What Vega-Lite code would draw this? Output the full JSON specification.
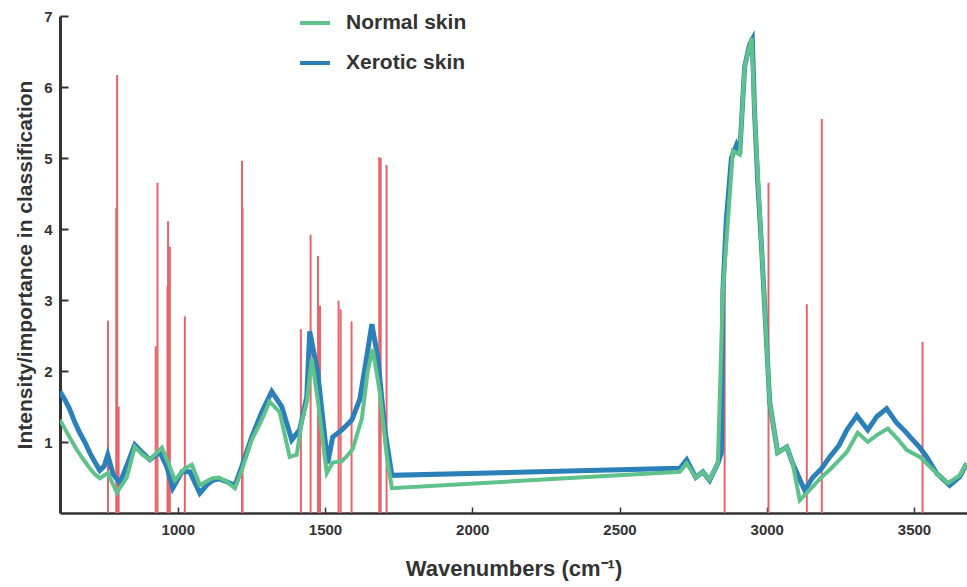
{
  "$schema": "https://vega.github.io/schema/vega-lite/v6.json",
  "width": 907,
  "height": 497,
  "autosize": {"type": "none"},
  "padding": {"left": 60, "top": 16, "right": 0, "bottom": 74},
  "background": "white",
  "config": {"view": {"stroke": null}, "font": "Liberation Sans"},
  "datasets": {
    "spikes": [
      {"wn": 763, "v": 2.71}, {"wn": 791, "v": 4.3}, {"wn": 794, "v": 6.17}, {"wn": 799, "v": 1.5},
      {"wn": 925, "v": 2.35}, {"wn": 931, "v": 4.65}, {"wn": 965, "v": 3.2}, {"wn": 967, "v": 4.11},
      {"wn": 973, "v": 3.75}, {"wn": 1024, "v": 2.77}, {"wn": 1218, "v": 4.96}, {"wn": 1220, "v": 4.3},
      {"wn": 1418, "v": 2.59}, {"wn": 1451, "v": 3.92}, {"wn": 1476, "v": 3.62}, {"wn": 1483, "v": 2.92},
      {"wn": 1546, "v": 2.99}, {"wn": 1553, "v": 2.87}, {"wn": 1590, "v": 2.7}, {"wn": 1684, "v": 5.01},
      {"wn": 1689, "v": 5.0}, {"wn": 1709, "v": 4.9}, {"wn": 2857, "v": 3.93}, {"wn": 3006, "v": 4.65},
      {"wn": 3136, "v": 2.94}, {"wn": 3187, "v": 5.55}, {"wn": 3529, "v": 2.41}
    ],
    "curves": [
      {"s": "Xerotic skin", "wn": 600, "v": 1.71}, {"s": "Xerotic skin", "wn": 616, "v": 1.6},
      {"s": "Xerotic skin", "wn": 633, "v": 1.46}, {"s": "Xerotic skin", "wn": 650, "v": 1.28},
      {"s": "Xerotic skin", "wn": 667, "v": 1.13}, {"s": "Xerotic skin", "wn": 684, "v": 1.0},
      {"s": "Xerotic skin", "wn": 701, "v": 0.85}, {"s": "Xerotic skin", "wn": 718, "v": 0.72},
      {"s": "Xerotic skin", "wn": 735, "v": 0.6}, {"s": "Xerotic skin", "wn": 750, "v": 0.66},
      {"s": "Xerotic skin", "wn": 762, "v": 0.82}, {"s": "Xerotic skin", "wn": 780, "v": 0.55},
      {"s": "Xerotic skin", "wn": 803, "v": 0.42}, {"s": "Xerotic skin", "wn": 830, "v": 0.7},
      {"s": "Xerotic skin", "wn": 854, "v": 0.96}, {"s": "Xerotic skin", "wn": 880, "v": 0.85},
      {"s": "Xerotic skin", "wn": 905, "v": 0.75}, {"s": "Xerotic skin", "wn": 939, "v": 0.86},
      {"s": "Xerotic skin", "wn": 963, "v": 0.65}, {"s": "Xerotic skin", "wn": 983, "v": 0.35},
      {"s": "Xerotic skin", "wn": 1014, "v": 0.58}, {"s": "Xerotic skin", "wn": 1041, "v": 0.58},
      {"s": "Xerotic skin", "wn": 1075, "v": 0.28}, {"s": "Xerotic skin", "wn": 1100, "v": 0.4},
      {"s": "Xerotic skin", "wn": 1119, "v": 0.46}, {"s": "Xerotic skin", "wn": 1140, "v": 0.48},
      {"s": "Xerotic skin", "wn": 1166, "v": 0.44}, {"s": "Xerotic skin", "wn": 1194, "v": 0.39},
      {"s": "Xerotic skin", "wn": 1217, "v": 0.65}, {"s": "Xerotic skin", "wn": 1251, "v": 1.07},
      {"s": "Xerotic skin", "wn": 1285, "v": 1.42}, {"s": "Xerotic skin", "wn": 1319, "v": 1.71},
      {"s": "Xerotic skin", "wn": 1353, "v": 1.5}, {"s": "Xerotic skin", "wn": 1387, "v": 1.03},
      {"s": "Xerotic skin", "wn": 1414, "v": 1.17}, {"s": "Xerotic skin", "wn": 1438, "v": 1.64},
      {"s": "Xerotic skin", "wn": 1448, "v": 2.56}, {"s": "Xerotic skin", "wn": 1475, "v": 1.98},
      {"s": "Xerotic skin", "wn": 1509, "v": 0.7}, {"s": "Xerotic skin", "wn": 1526, "v": 1.07},
      {"s": "Xerotic skin", "wn": 1557, "v": 1.17}, {"s": "Xerotic skin", "wn": 1591, "v": 1.31},
      {"s": "Xerotic skin", "wn": 1618, "v": 1.6}, {"s": "Xerotic skin", "wn": 1642, "v": 2.21},
      {"s": "Xerotic skin", "wn": 1659, "v": 2.66}, {"s": "Xerotic skin", "wn": 1679, "v": 2.2},
      {"s": "Xerotic skin", "wn": 1703, "v": 1.17}, {"s": "Xerotic skin", "wn": 1727, "v": 0.53},
      {"s": "Xerotic skin", "wn": 2705, "v": 0.63}, {"s": "Xerotic skin", "wn": 2728, "v": 0.75},
      {"s": "Xerotic skin", "wn": 2759, "v": 0.5}, {"s": "Xerotic skin", "wn": 2783, "v": 0.58},
      {"s": "Xerotic skin", "wn": 2806, "v": 0.46}, {"s": "Xerotic skin", "wn": 2834, "v": 0.7},
      {"s": "Xerotic skin", "wn": 2846, "v": 0.85}, {"s": "Xerotic skin", "wn": 2851, "v": 3.12},
      {"s": "Xerotic skin", "wn": 2863, "v": 4.15}, {"s": "Xerotic skin", "wn": 2880, "v": 5.0},
      {"s": "Xerotic skin", "wn": 2897, "v": 5.18}, {"s": "Xerotic skin", "wn": 2908, "v": 5.05},
      {"s": "Xerotic skin", "wn": 2925, "v": 6.29}, {"s": "Xerotic skin", "wn": 2942, "v": 6.6},
      {"s": "Xerotic skin", "wn": 2951, "v": 6.67}, {"s": "Xerotic skin", "wn": 2959, "v": 5.6},
      {"s": "Xerotic skin", "wn": 2970, "v": 4.62}, {"s": "Xerotic skin", "wn": 2983, "v": 3.69},
      {"s": "Xerotic skin", "wn": 3010, "v": 1.56}, {"s": "Xerotic skin", "wn": 3037, "v": 0.85},
      {"s": "Xerotic skin", "wn": 3068, "v": 0.93}, {"s": "Xerotic skin", "wn": 3088, "v": 0.7},
      {"s": "Xerotic skin", "wn": 3119, "v": 0.41}, {"s": "Xerotic skin", "wn": 3129, "v": 0.32},
      {"s": "Xerotic skin", "wn": 3156, "v": 0.5}, {"s": "Xerotic skin", "wn": 3185, "v": 0.62},
      {"s": "Xerotic skin", "wn": 3214, "v": 0.79}, {"s": "Xerotic skin", "wn": 3245, "v": 0.95},
      {"s": "Xerotic skin", "wn": 3272, "v": 1.17}, {"s": "Xerotic skin", "wn": 3306, "v": 1.37},
      {"s": "Xerotic skin", "wn": 3343, "v": 1.17}, {"s": "Xerotic skin", "wn": 3374, "v": 1.36},
      {"s": "Xerotic skin", "wn": 3407, "v": 1.47}, {"s": "Xerotic skin", "wn": 3441, "v": 1.27},
      {"s": "Xerotic skin", "wn": 3470, "v": 1.15}, {"s": "Xerotic skin", "wn": 3496, "v": 1.03},
      {"s": "Xerotic skin", "wn": 3520, "v": 0.92}, {"s": "Xerotic skin", "wn": 3543, "v": 0.79},
      {"s": "Xerotic skin", "wn": 3577, "v": 0.56}, {"s": "Xerotic skin", "wn": 3621, "v": 0.39},
      {"s": "Xerotic skin", "wn": 3655, "v": 0.51}, {"s": "Xerotic skin", "wn": 3679, "v": 0.7},

      {"s": "Normal skin", "wn": 600, "v": 1.31}, {"s": "Normal skin", "wn": 628, "v": 1.1},
      {"s": "Normal skin", "wn": 657, "v": 0.89}, {"s": "Normal skin", "wn": 680, "v": 0.75},
      {"s": "Normal skin", "wn": 701, "v": 0.63}, {"s": "Normal skin", "wn": 718, "v": 0.55},
      {"s": "Normal skin", "wn": 735, "v": 0.49}, {"s": "Normal skin", "wn": 762, "v": 0.56},
      {"s": "Normal skin", "wn": 793, "v": 0.29}, {"s": "Normal skin", "wn": 827, "v": 0.5},
      {"s": "Normal skin", "wn": 854, "v": 0.93}, {"s": "Normal skin", "wn": 880, "v": 0.82},
      {"s": "Normal skin", "wn": 905, "v": 0.75}, {"s": "Normal skin", "wn": 946, "v": 0.92},
      {"s": "Normal skin", "wn": 973, "v": 0.65}, {"s": "Normal skin", "wn": 990, "v": 0.46},
      {"s": "Normal skin", "wn": 1024, "v": 0.63}, {"s": "Normal skin", "wn": 1048, "v": 0.68},
      {"s": "Normal skin", "wn": 1075, "v": 0.39}, {"s": "Normal skin", "wn": 1100, "v": 0.45},
      {"s": "Normal skin", "wn": 1119, "v": 0.49}, {"s": "Normal skin", "wn": 1140, "v": 0.5},
      {"s": "Normal skin", "wn": 1166, "v": 0.44}, {"s": "Normal skin", "wn": 1194, "v": 0.35},
      {"s": "Normal skin", "wn": 1217, "v": 0.6}, {"s": "Normal skin", "wn": 1251, "v": 1.03},
      {"s": "Normal skin", "wn": 1285, "v": 1.31}, {"s": "Normal skin", "wn": 1312, "v": 1.57},
      {"s": "Normal skin", "wn": 1346, "v": 1.42}, {"s": "Normal skin", "wn": 1380, "v": 0.79},
      {"s": "Normal skin", "wn": 1404, "v": 0.82}, {"s": "Normal skin", "wn": 1420, "v": 1.27},
      {"s": "Normal skin", "wn": 1438, "v": 1.56}, {"s": "Normal skin", "wn": 1455, "v": 2.17},
      {"s": "Normal skin", "wn": 1475, "v": 1.6}, {"s": "Normal skin", "wn": 1506, "v": 0.56},
      {"s": "Normal skin", "wn": 1526, "v": 0.71}, {"s": "Normal skin", "wn": 1557, "v": 0.73},
      {"s": "Normal skin", "wn": 1574, "v": 0.8}, {"s": "Normal skin", "wn": 1594, "v": 0.9},
      {"s": "Normal skin", "wn": 1625, "v": 1.33}, {"s": "Normal skin", "wn": 1645, "v": 2.0},
      {"s": "Normal skin", "wn": 1662, "v": 2.31}, {"s": "Normal skin", "wn": 1686, "v": 1.7},
      {"s": "Normal skin", "wn": 1710, "v": 0.79}, {"s": "Normal skin", "wn": 1727, "v": 0.35},
      {"s": "Normal skin", "wn": 2705, "v": 0.58}, {"s": "Normal skin", "wn": 2728, "v": 0.7},
      {"s": "Normal skin", "wn": 2759, "v": 0.5}, {"s": "Normal skin", "wn": 2783, "v": 0.58},
      {"s": "Normal skin", "wn": 2806, "v": 0.47}, {"s": "Normal skin", "wn": 2834, "v": 0.7},
      {"s": "Normal skin", "wn": 2851, "v": 3.12}, {"s": "Normal skin", "wn": 2885, "v": 5.1},
      {"s": "Normal skin", "wn": 2908, "v": 5.05}, {"s": "Normal skin", "wn": 2925, "v": 6.29},
      {"s": "Normal skin", "wn": 2949, "v": 6.69}, {"s": "Normal skin", "wn": 2959, "v": 5.6},
      {"s": "Normal skin", "wn": 2983, "v": 3.69}, {"s": "Normal skin", "wn": 3010, "v": 1.56},
      {"s": "Normal skin", "wn": 3037, "v": 0.85}, {"s": "Normal skin", "wn": 3068, "v": 0.93},
      {"s": "Normal skin", "wn": 3088, "v": 0.7}, {"s": "Normal skin", "wn": 3112, "v": 0.18},
      {"s": "Normal skin", "wn": 3156, "v": 0.37}, {"s": "Normal skin", "wn": 3185, "v": 0.5},
      {"s": "Normal skin", "wn": 3214, "v": 0.61}, {"s": "Normal skin", "wn": 3245, "v": 0.74},
      {"s": "Normal skin", "wn": 3272, "v": 0.86}, {"s": "Normal skin", "wn": 3309, "v": 1.13},
      {"s": "Normal skin", "wn": 3343, "v": 1.0}, {"s": "Normal skin", "wn": 3375, "v": 1.1},
      {"s": "Normal skin", "wn": 3411, "v": 1.19}, {"s": "Normal skin", "wn": 3445, "v": 1.04},
      {"s": "Normal skin", "wn": 3475, "v": 0.89}, {"s": "Normal skin", "wn": 3519, "v": 0.79},
      {"s": "Normal skin", "wn": 3577, "v": 0.56}, {"s": "Normal skin", "wn": 3615, "v": 0.42},
      {"s": "Normal skin", "wn": 3655, "v": 0.53}, {"s": "Normal skin", "wn": 3679, "v": 0.7}
    ]
  },
  "layer": [
    {
      "data": {"name": "spikes"},
      "mark": {"type": "rule", "color": "#E8636A", "strokeWidth": 2},
      "encoding": {
        "x": {"field": "wn", "type": "quantitative", "scale": {"domain": [600, 3680], "nice": false},
          "axis": {"values": [1000, 1500, 2000, 2500, 3000, 3500], "format": "d", "grid": false,
            "domainColor": "#333", "domainWidth": 2.5, "tickColor": "#333", "tickSize": -6, "tickWidth": 1.5,
            "labelFontSize": 15, "labelFontWeight": "bold", "labelColor": "#333", "labelPadding": 15,
            "title": "Wavenumbers (cm⁻¹)", "titleFontSize": 22, "titleFontWeight": "bold", "titleColor": "#333", "titlePadding": 21}},
        "y": {"field": "v", "type": "quantitative", "scale": {"domain": [0, 7], "nice": false},
          "axis": {"values": [1, 2, 3, 4, 5, 6, 7], "format": "d", "grid": false,
            "domainColor": "#333", "domainWidth": 3, "tickColor": "#333", "tickSize": -8, "tickWidth": 2,
            "labelFontSize": 15, "labelFontWeight": "bold", "labelColor": "#333", "labelPadding": 16,
            "title": "Intensity/importance in classification", "titleFontSize": 21, "titleFontWeight": "bold", "titleColor": "#333", "titlePadding": 8}},
        "y2": {"datum": 0}
      }
    },
    {
      "data": {"name": "curves"},
      "transform": [{"filter": "datum.s === 'Xerotic skin'"}],
      "mark": {"type": "line", "strokeWidth": 5, "clip": true},
      "encoding": {
        "x": {"field": "wn", "type": "quantitative"},
        "y": {"field": "v", "type": "quantitative"},
        "color": {"field": "s", "type": "nominal",
          "scale": {"domain": ["Normal skin", "Xerotic skin"], "range": ["#5EC28A", "#2B80BA"]},
          "legend": {"orient": "none", "legendX": 238, "legendY": -10, "title": null, "symbolType": "stroke",
            "symbolSize": 900, "symbolStrokeWidth": 4, "labelFontSize": 21, "labelFontWeight": "bold",
            "labelColor": "#333", "labelOffset": 14, "rowPadding": 13}}
      }
    },
    {
      "data": {"name": "curves"},
      "transform": [{"filter": "datum.s === 'Normal skin'"}],
      "mark": {"type": "line", "strokeWidth": 4, "clip": true},
      "encoding": {
        "x": {"field": "wn", "type": "quantitative"},
        "y": {"field": "v", "type": "quantitative"},
        "color": {"field": "s", "type": "nominal"}
      }
    }
  ]
}
